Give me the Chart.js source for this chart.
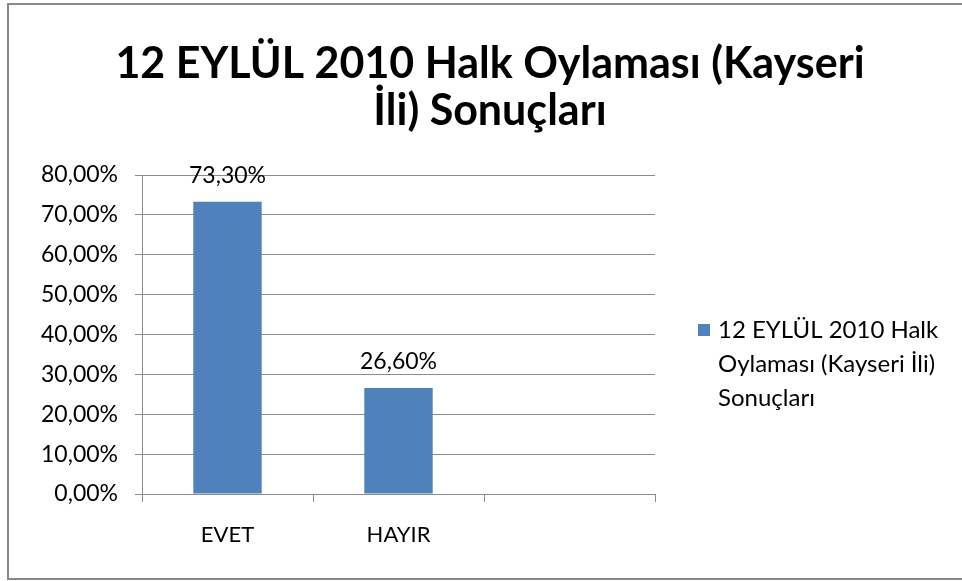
<!DOCTYPE html>
<html>
<head>
<meta charset="utf-8">
<script src="https://cdn.jsdelivr.net/npm/chart.js@4"></script>
<style>
  html, body { margin: 0; padding: 0; background: #fff; }
  #wrap { position: relative; width: 962px; height: 581px; }
</style>
</head>
<body>
<div id="wrap"><canvas id="chart" width="962" height="581"></canvas></div>
<script>
// ----------------- DATA -----------------
const categories = ["EVET", "HAYIR", ""];
const values = [73.3, 26.6, null];
const seriesName = "12 EYLÜL 2010 Halk Oylaması (Kayseri İli) Sonuçları";
const titleLines = ["12 EYLÜL 2010 Halk Oylaması (Kayseri", "İli) Sonuçları"];
const legendLines = ["12 EYLÜL 2010 Halk", "Oylaması (Kayseri İli)", "Sonuçları"];
const yTicks = [0, 10, 20, 30, 40, 50, 60, 70, 80];

const FONT = "Lato, 'Open Sans', sans-serif";
const BAR = "#4F81BD";
const GRID = "#8c8c8c";

function pct(v) {
  return v.toFixed(2).replace(".", ",") + "%";
}

// ----------------- PLUGINS -----------------
// dis cerceve (sag kenar yok)
const frame = {
  id: "frame",
  beforeDraw(chart) {
    const c = chart.ctx;
    c.save();
    c.strokeStyle = "#878787";
    c.lineWidth = 2;
    c.beginPath();
    c.moveTo(962, 4);
    c.lineTo(8, 4);
    c.lineTo(8, 579);
    c.lineTo(962, 579);
    c.stroke();
    c.restore();
  }
};

// baslik (grafik alaninin degil, sayfanin ortasina gore)
const bigTitle = {
  id: "bigTitle",
  afterDraw(chart) {
    const c = chart.ctx;
    c.save();
    c.font = "bold 43px " + FONT;
    c.fillStyle = "#000";
    c.textAlign = "center";
    c.textBaseline = "middle";
    titleLines.forEach((t, i) => c.fillText(t, 490, 64 + i * 47));
    c.restore();
  }
};

// cubuk ustu degerler
const valueLabels = {
  id: "valueLabels",
  afterDatasetsDraw(chart) {
    const c = chart.ctx;
    const meta = chart.getDatasetMeta(0);
    c.save();
    c.font = "23px " + FONT;
    c.fillStyle = "#000";
    c.textAlign = "center";
    c.textBaseline = "middle";
    meta.data.forEach((bar, i) => {
      if (values[i] == null) return;
      c.fillText(pct(values[i]), bar.x, bar.y - 26);
    });
    c.restore();
  }
};

// sag taraftaki lejant
const sideLegend = {
  id: "sideLegend",
  afterDraw(chart) {
    const c = chart.ctx;
    c.save();
    c.fillStyle = BAR;
    c.fillRect(698, 324, 12, 12);
    c.font = "24px " + FONT;
    c.fillStyle = "#000";
    c.textAlign = "left";
    c.textBaseline = "middle";
    legendLines.forEach((t, i) => c.fillText(t, 718, 330 + i * 34));
    c.restore();
  }
};

// ----------------- CHART -----------------
new Chart(document.getElementById("chart"), {
  type: "bar",
  data: {
    labels: categories,
    datasets: [{
      label: seriesName,
      data: values,
      backgroundColor: BAR,
      borderWidth: 0,
      barPercentage: 0.4,
      categoryPercentage: 1.0
    }]
  },
  options: {
    responsive: false,
    animation: false,
    layout: { padding: { left: 0, right: 307, top: 175, bottom: 0 } },
    plugins: {
      legend: { display: false },
      tooltip: { enabled: false },
      title: { display: false }
    },
    scales: {
      x: {
        offset: true,
        grid: {
          offset: true,
          drawOnChartArea: false,
          color: GRID,
          tickLength: 8
        },
        border: { color: GRID, width: 1 },
        ticks: { color: "#000", font: { family: FONT, size: 22 }, padding: 20 },
        afterFit(s) { s.height = 87; }
      },
      y: {
        min: 0,
        max: 80,
        afterBuildTicks(s) { s.ticks = yTicks.map(v => ({ value: v })); },
        grid: { color: GRID, tickLength: 7 },
        border: { color: GRID, width: 1 },
        ticks: {
          color: "#000",
          font: { family: FONT, size: 23 },
          padding: 17,
          callback: v => pct(v)
        },
        afterFit(s) { s.width = 142; }
      }
    }
  },
  plugins: [frame, bigTitle, valueLabels, sideLegend]
});
</script>
</body>
</html>
